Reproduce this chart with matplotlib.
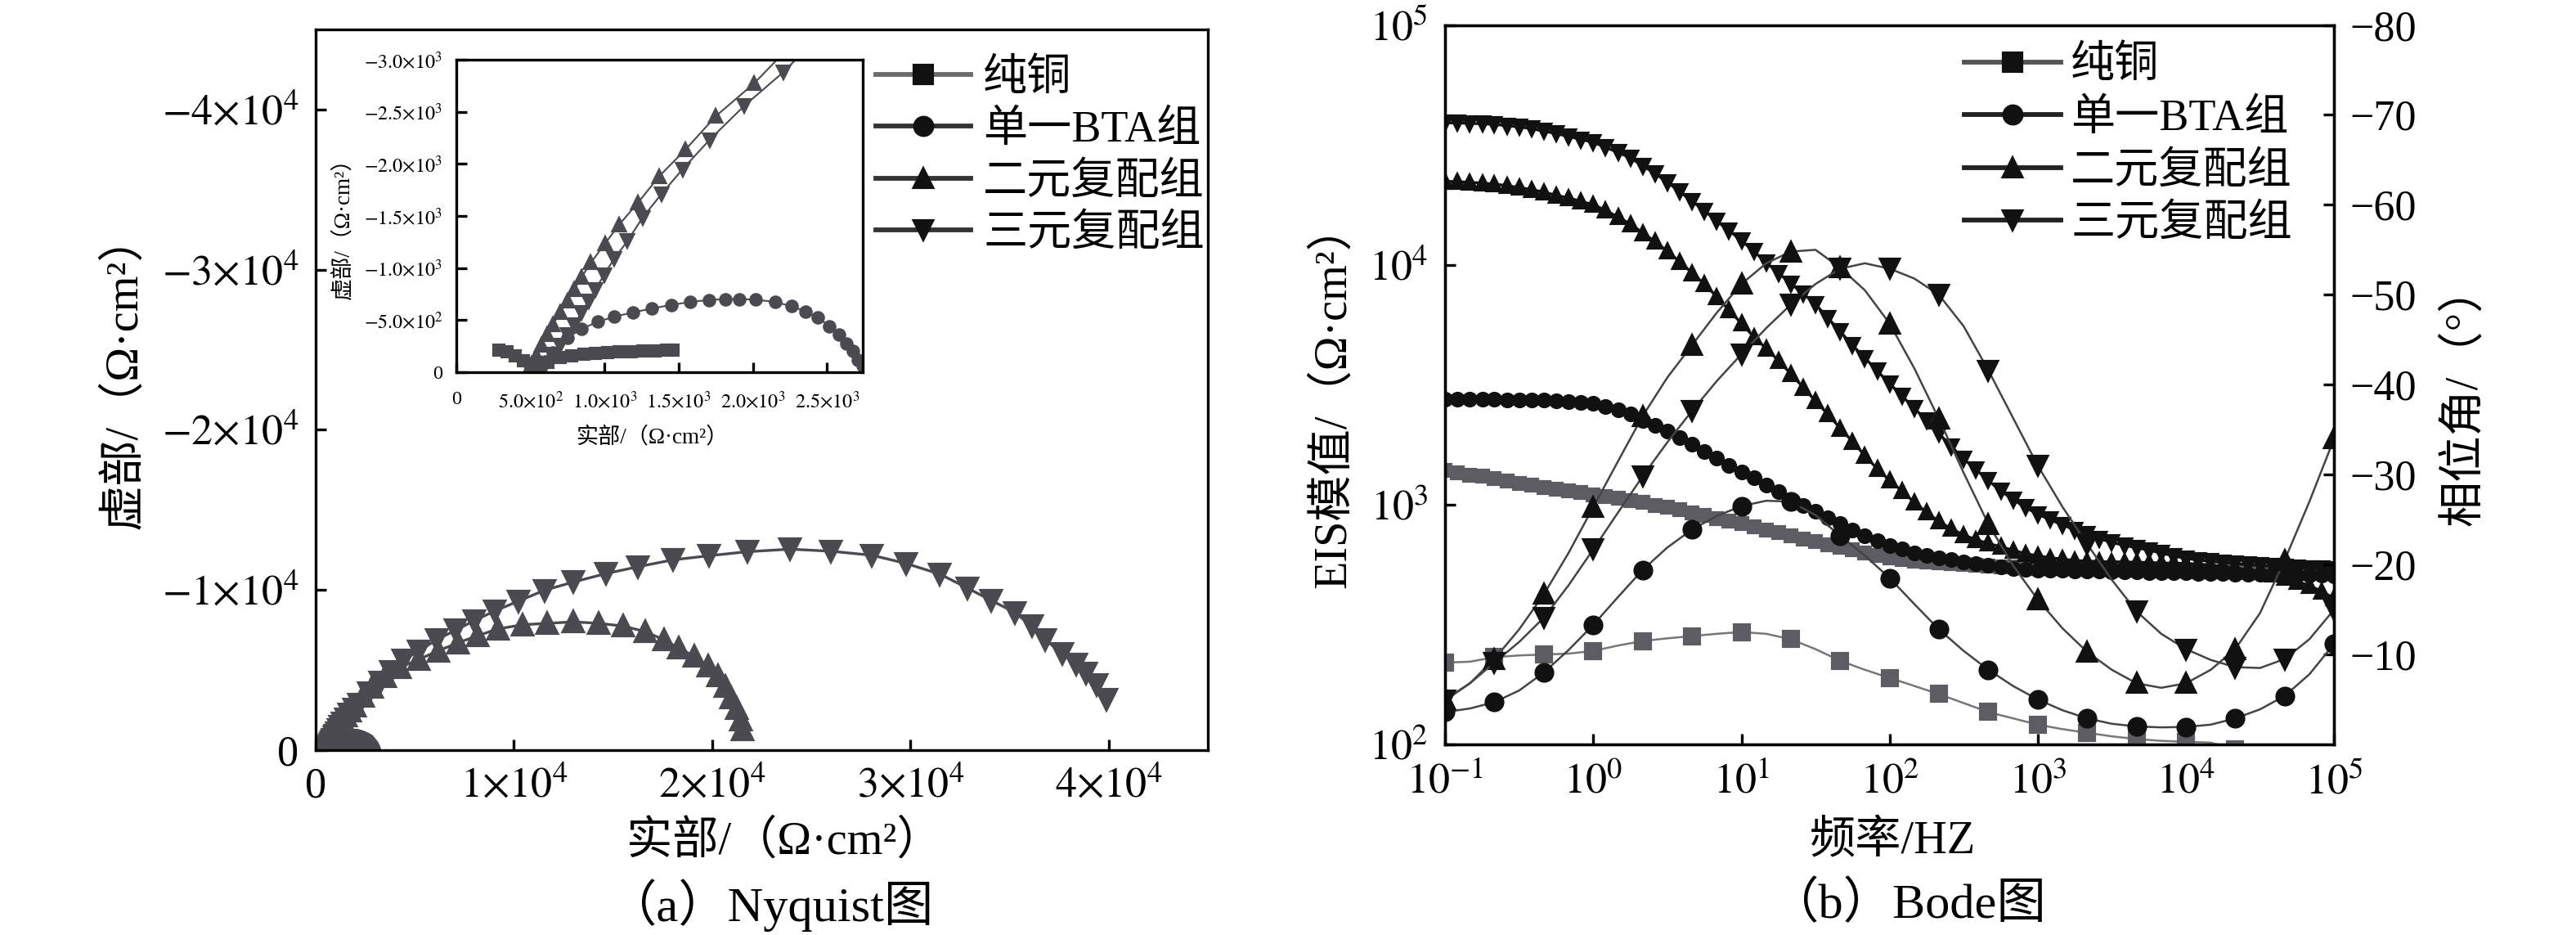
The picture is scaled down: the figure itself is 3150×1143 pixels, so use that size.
"""Nyquist (a) and Bode (b) plots for the copper corrosion EIS runs."""

import matplotlib
matplotlib.use("Agg")
import matplotlib.pyplot as plt
from matplotlib.lines import Line2D
from matplotlib.ticker import NullLocator

plt.rcParams["font.family"] = ["Liberation Serif", "Noto Sans CJK SC", "DejaVu Sans"]
plt.rcParams["mathtext.fontset"] = "stix"
plt.rcParams["axes.unicode_minus"] = True

LABELS = ["纯铜", "单一BTA组", "二元复配组", "三元复配组"]

# ---- Nyquist data, Z' and Z'' in ohm cm2 (high frequency first) ----
NYQ_CU_RE = [290, 340, 395, 450, 505, 560, 620, 700, 780, 860, 940, 1020,
             1100, 1180, 1260, 1340, 1420, 1460]
NYQ_CU_IM = [-215, -195, -160, -110, -55, -40, -95, -140, -160, -172, -180, -188,
             -194, -199, -203, -207, -211, -214]

NYQ_BTA_RE = [545, 600, 652, 748, 843, 955, 1066, 1193, 1320, 1448, 1575, 1703,
              1814, 1909, 2021, 2148, 2259, 2355, 2435, 2514, 2578, 2632, 2673,
              2705, 2740, 2770]
NYQ_BTA_IM = [-20, -100, -189, -330, -415, -485, -533, -575, -612, -646, -674, -694,
              -702, -702, -697, -674, -635, -584, -528, -443, -358, -273, -203,
              -119, -60, -10]

NYQ_BIN_RE = [509, 541, 573, 614, 652, 700, 748, 795, 843, 907, 1002, 1098, 1225,
              1368, 1543, 1750, 2005, 2400, 2870, 3530, 4270, 5220, 6180, 7200,
              8160, 9190, 10440, 11690, 13010, 14260, 15510, 16620, 17570, 18300,
              19110, 19780, 20290, 20660, 20950, 21240, 21470, 21540]
NYQ_BIN_IM = [-77, -161, -259, -358, -457, -570, -683, -795, -908, -1050, -1233,
              -1416, -1627, -1881, -2134, -2459, -2769, -3350, -3950, -4600, -5170,
              -5680, -6200, -6710, -7140, -7570, -7830, -7920, -8010, -7920, -7750,
              -7400, -6890, -6370, -5860, -5250, -4650, -3960, -3280, -2590, -1900,
              -1300]

NYQ_TER_RE = [605, 652, 700, 748, 795, 843, 891, 939, 996, 1066, 1155, 1257, 1384,
              1527, 1709, 1942, 2206, 2700, 3250, 3800, 4410, 5220, 6100, 7060,
              8010, 9040, 10220, 11540, 13010, 14630, 16250, 18010, 19850, 21760,
              23940, 26000, 28060, 29770, 31490, 32860, 34060, 35260, 36120, 36810,
              37660, 38350, 38860, 39380, 39890]
NYQ_TER_IM = [-90, -175, -259, -358, -457, -570, -683, -795, -936, -1092, -1261,
              -1486, -1712, -1951, -2233, -2558, -2882, -3600, -4250, -4900, -5600,
              -6200, -6890, -7490, -8090, -8690, -9300, -9980, -10500, -11020,
              -11450, -11880, -12140, -12390, -12550, -12420, -12170, -11660,
              -10990, -10130, -9360, -8600, -7740, -6880, -6020, -5360, -4780,
              -4110, -3160]

# ---- Bode data: 12 points per decade ----
FREQ_HZ = [0.1, 0.121, 0.147, 0.178, 0.215, 0.261, 0.316, 0.383, 0.464, 0.562, 0.681, 0.825,
           1.0, 1.21, 1.47, 1.78, 2.15, 2.61, 3.16, 3.83, 4.64, 5.62, 6.81, 8.25,
           10, 12.1, 14.7, 17.8, 21.5, 26.1, 31.6, 38.3, 46.4, 56.2, 68.1, 82.5,
           100, 121, 147, 178, 215, 261, 316, 383, 464, 562, 681, 825,
           1000, 1210, 1470, 1780, 2150, 2610, 3160, 3830, 4640, 5620, 6810, 8250,
           10000, 12100, 14700, 17800, 21500, 26100, 31600, 38300, 46400, 56200,
           68100, 82500, 100000]

ZMOD_CU = [1390, 1360, 1330, 1310, 1280, 1250, 1230, 1210, 1180, 1160, 1140, 1120,
           1100, 1080, 1060, 1040, 1020, 995, 977, 953, 927, 902, 877, 855,
           832, 807, 785, 762, 741, 719, 700, 682, 665, 649, 631, 615,
           600, 592, 583, 577, 571, 566, 562, 558, 556, 552, 550, 546,
           543, 542, 541, 540, 538, 537, 536, 534, 533, 532, 530, 529,
           527, 526, 525, 524, 523, 522, 521, 520, 519, 518, 517, 516, 515]
ZMOD_BTA = [2750, 2750, 2750, 2750, 2750, 2740, 2735, 2730, 2720, 2700, 2690, 2670,
            2640, 2570, 2480, 2380, 2250, 2140, 2020, 1900, 1780, 1670, 1560, 1460,
            1370, 1290, 1210, 1130, 1050, 995, 938, 883, 834, 785, 741, 705,
            675, 652, 631, 615, 601, 589, 578, 566, 557, 550, 543, 538,
            535, 532, 531, 530, 528, 527, 526, 525, 524, 522, 521, 520,
            519, 518, 516, 515, 514, 513, 512, 511, 511, 509, 508, 507, 506]
ZMOD_BIN = [22300, 22200, 22100, 21900, 21700, 21400, 21000, 20600, 20100, 19500, 19000, 18400,
            17800, 16900, 15800, 14800, 13600, 12500, 11400, 10300, 9250, 8320, 7350, 6460,
            5690, 5010, 4470, 3980, 3510, 3080, 2700, 2380, 2080, 1830, 1600, 1410,
            1260, 1140, 1020, 929, 851, 793, 748, 714, 689, 667, 646, 625,
            612, 601, 593, 585, 582, 579, 578, 577, 575, 574, 571, 570,
            569, 565, 560, 553, 545, 535, 525, 511, 495, 479, 460, 435, 407]
ZMOD_TER = [39100, 39000, 38900, 38700, 38500, 38000, 37600, 36900, 36100, 35200, 34300, 33300,
            32400, 30900, 29400, 27900, 25900, 24000, 22100, 20200, 18400, 16800, 15200, 13900,
            12600, 11400, 10200, 9230, 8360, 7570, 6850, 6010, 5270, 4620, 4090, 3610,
            3200, 2840, 2520, 2240, 1980, 1750, 1550, 1400, 1260, 1140, 1050, 973,
            912, 865, 822, 785, 752, 721, 695, 676, 661, 646, 628, 611,
            596, 587, 579, 573, 568, 562, 557, 553, 550, 546, 543, 540, 537]

# phase in degrees at every second frequency (6 per decade)
PHASE_CU = [-9.1, -9.2, -9.7, -9.9, -10.0, -10.1, -10.4, -11.0, -11.5, -11.8, -12.05,
            -12.3, -12.5, -12.3, -11.7, -10.6, -9.3, -8.3, -7.4, -6.5, -5.6, -4.6,
            -3.6, -2.9, -2.2, -1.7, -1.3, -0.9, -0.6, -0.4, -0.3, -0.2, 0.5, 1.5,
            3.0, 5.0, 7.5]
PHASE_BTA = [-3.6, -4.0, -4.7, -6.0, -8.0, -10.5, -13.3, -16.4, -19.4, -21.9, -23.9,
             -25.4, -26.5, -27.1, -27.0, -25.5, -23.2, -21.0, -18.5, -15.6, -12.8,
             -10.4, -8.3, -6.5, -5.0, -3.8, -2.9, -2.3, -2.0, -1.9, -1.95, -2.2,
             -2.9, -3.9, -5.4, -7.8, -11.2]
PHASE_BIN = [-5.0, -6.8, -9.5, -12.8, -16.7, -21.3, -26.4, -31.5, -36.5, -40.8, -44.4,
             -48.0, -51.2, -53.5, -54.8, -55.0, -53.0, -50.5, -46.8, -41.8, -36.2,
             -30.2, -24.5, -19.9, -16.1, -12.9, -10.3, -8.3, -6.8, -6.3, -6.8, -8.3,
             -10.6, -14.6, -20.5, -27.0, -34.0]
PHASE_TER = [-4.9, -6.8, -9.1, -11.4, -14.1, -17.7, -21.7, -25.8, -29.8, -33.6, -37.1,
             -40.4, -43.4, -46.3, -48.9, -51.2, -52.9, -53.5, -52.9, -51.8, -50.0,
             -46.5, -41.6, -36.3, -31.0, -26.4, -22.3, -18.3, -14.8, -12.3, -10.6,
             -9.4, -8.6, -8.5, -9.5, -11.7, -15.0]

NYQ_X_TICKS = [0, 10000, 20000, 30000, 40000]
NYQ_X_LABELS = ["0", r"$1{\times}10^{4}$", r"$2{\times}10^{4}$", r"$3{\times}10^{4}$",
                r"$4{\times}10^{4}$"]
NYQ_Y_TICKS = [0, -10000, -20000, -30000, -40000]
NYQ_Y_LABELS = ["0", r"$-1{\times}10^{4}$", r"$-2{\times}10^{4}$", r"$-3{\times}10^{4}$",
                r"$-4{\times}10^{4}$"]
INSET_X_TICKS = [0, 500, 1000, 1500, 2000, 2500]
INSET_X_LABELS = ["0", r"$5.0{\times}10^{2}$", r"$1.0{\times}10^{3}$", r"$1.5{\times}10^{3}$",
                  r"$2.0{\times}10^{3}$", r"$2.5{\times}10^{3}$"]
INSET_Y_TICKS = [0, -500, -1000, -1500, -2000, -2500, -3000]
INSET_Y_LABELS = ["0", r"$-5.0{\times}10^{2}$", r"$-1.0{\times}10^{3}$", r"$-1.5{\times}10^{3}$",
                  r"$-2.0{\times}10^{3}$", r"$-2.5{\times}10^{3}$", r"$-3.0{\times}10^{3}$"]
BODE_X_TICKS = [0.1, 1, 10, 100, 1000, 10000, 100000]
BODE_X_LABELS = [r"$10^{-1}$", r"$10^{0}$", r"$10^{1}$", r"$10^{2}$", r"$10^{3}$",
                 r"$10^{4}$", r"$10^{5}$"]
BODE_Y_TICKS = [100, 1000, 10000, 100000]
BODE_Y_LABELS = [r"$10^{2}$", r"$10^{3}$", r"$10^{4}$", r"$10^{5}$"]
PHASE_TICKS = [-80, -70, -60, -50, -40, -30, -20, -10]
PHASE_LABELS = ["−80", "−70", "−60", "−50", "−40", "−30", "−20", "−10"]

NYQ_GREY = "#4a4a50"
CU_GREY = "#5c5c62"
BLACK = "#111111"


def style_axes(ax, size, length, pad):
    for side in ax.spines.values():
        side.set_linewidth(0.8)
    ax.tick_params(direction="in", length=length, width=0.8, labelsize=size,
                   pad=pad, top=False, right=False)


def draw_nyquist(ax, ms, lw):
    kw = dict(color=NYQ_GREY, mfc=NYQ_GREY, mec=NYQ_GREY, lw=lw, clip_on=True)
    ax.plot(NYQ_CU_RE, NYQ_CU_IM, marker="s", ms=ms * 0.85, **kw)
    ax.plot(NYQ_BTA_RE, NYQ_BTA_IM, marker="o", ms=ms * 0.9, **kw)
    ax.plot(NYQ_TER_RE, NYQ_TER_IM, marker="v", ms=ms, **kw)
    ax.plot(NYQ_BIN_RE, NYQ_BIN_IM, marker="^", ms=ms, **kw)


def legend_handles(line_cu, line_other):
    marks = ["s", "o", "^", "v"]
    handles = []
    for i, m in enumerate(marks):
        c = line_cu if i == 0 else line_other
        handles.append(Line2D([], [], color=c, lw=1.4, marker=m, ms=5.2,
                              mfc=BLACK, mec=BLACK))
    return handles


fig = plt.figure(figsize=(10.5, 3.81), dpi=300)

# ---------------- (a) Nyquist ----------------
ax_n = fig.add_axes([0.1225, 0.1977, 0.3464, 0.7708])
draw_nyquist(ax_n, ms=5.6, lw=0.8)
ax_n.set_xlim(0, 45000)
ax_n.set_ylim(0, -45000)
ax_n.set_xticks(NYQ_X_TICKS, NYQ_X_LABELS)
ax_n.set_yticks(NYQ_Y_TICKS, NYQ_Y_LABELS)
style_axes(ax_n, 12.5, 3.2, 5)

ax_in = fig.add_axes([0.1771, 0.6019, 0.1578, 0.3342])
ax_in.set_zorder(3)
draw_nyquist(ax_in, ms=3.3, lw=0.5)
ax_in.set_xlim(0, 2740)
ax_in.set_ylim(0, -3000)
ax_in.set_xticks(INSET_X_TICKS, INSET_X_LABELS)
ax_in.set_yticks(INSET_Y_TICKS, INSET_Y_LABELS)
style_axes(ax_in, 5.8, 3.0, 4.0)
ax_in.tick_params(axis="x", pad=5.5)

ax_n.legend(legend_handles("#6a6a6a", "#333333"), LABELS,
            loc="upper left", bbox_to_anchor=(1071 / 3150, 1 - 71 / 1143),
            bbox_transform=fig.transFigure, frameon=False, fontsize=13,
            handlelength=2.14, handletextpad=0.28, labelspacing=0.24,
            borderpad=0, borderaxespad=0)

fig.text(0.048, 0.603, "虚部/（Ω·cm²）", rotation=90, ha="center", va="center",
         fontsize=13.5)
fig.text(0.3044, 0.0997, "实部/（Ω·cm²）", ha="center", va="center", fontsize=13.5)
fig.text(0.299, 0.032, "（a）Nyquist图", ha="center", va="center", fontsize=14.5)
fig.text(0.1332, 0.7612, "虚部/（Ω·cm²）", rotation=90, ha="center", va="center",
         fontsize=6.5)
fig.text(0.253, 0.532, "实部/（Ω·cm²）", ha="center", va="center", fontsize=6.5)

# ---------------- (b) Bode ----------------
ax_m = fig.add_axes([0.5610, 0.2038, 0.3451, 0.7695])
ax_p = ax_m.twinx()

ax_m.plot(FREQ_HZ, ZMOD_CU, marker="s", ms=3.4, color=CU_GREY, mfc=CU_GREY,
          mec=CU_GREY, lw=0.8, zorder=2)
ax_m.plot(FREQ_HZ, ZMOD_BTA, marker="o", ms=3.6, color=BLACK, lw=0.8, zorder=3)
ax_m.plot(FREQ_HZ, ZMOD_BIN, marker="^", ms=4.0, color=BLACK, lw=0.8, zorder=3)
ax_m.plot(FREQ_HZ, ZMOD_TER, marker="v", ms=4.0, color=BLACK, lw=0.8, zorder=3)

f_phase = FREQ_HZ[::2]
ax_p.plot(f_phase, PHASE_CU, marker="s", ms=4.4, markevery=2, color="#777777",
          mfc=CU_GREY, mec=CU_GREY, lw=0.6)
ax_p.plot(f_phase, PHASE_BTA, marker="o", ms=4.8, markevery=2, color="#444444",
          mfc=BLACK, mec=BLACK, lw=0.6)
ax_p.plot(f_phase, PHASE_BIN, marker="^", ms=5.4, markevery=2, color="#444444",
          mfc=BLACK, mec=BLACK, lw=0.6)
ax_p.plot(f_phase, PHASE_TER, marker="v", ms=5.4, markevery=2, color="#444444",
          mfc=BLACK, mec=BLACK, lw=0.6)

ax_m.set_xscale("log")
ax_m.set_yscale("log")
ax_m.set_xlim(0.1, 100000)
ax_m.set_ylim(100, 100000)
ax_m.set_xticks(BODE_X_TICKS, BODE_X_LABELS)
ax_m.set_yticks(BODE_Y_TICKS, BODE_Y_LABELS)
ax_m.xaxis.set_minor_locator(NullLocator())
ax_m.yaxis.set_minor_locator(NullLocator())
style_axes(ax_m, 12.5, 3.2, 5)
ax_m.tick_params(axis="x", pad=5.5)

ax_p.set_ylim(0, -80)
ax_p.set_yticks(PHASE_TICKS, PHASE_LABELS)
for side in ax_p.spines.values():
    side.set_linewidth(0.8)
ax_p.tick_params(axis="y", direction="in", length=3.2, width=0.8, labelsize=12.5,
                 pad=4.5, right=True, left=False)

ax_p.legend(legend_handles("#555555", "#222222"), LABELS,
            loc="upper left", bbox_to_anchor=(2402 / 3150, 1 - 56 / 1143),
            bbox_transform=fig.transFigure, frameon=False, fontsize=13,
            handlelength=2.18, handletextpad=0.22, labelspacing=0.26,
            borderpad=0, borderaxespad=0)

fig.text(0.5175, 0.5774, "EIS模值/（Ω·cm²）", rotation=90, ha="center", va="center",
         fontsize=13.5)
fig.text(0.9565, 0.5774, "相位角/（°）", rotation=90, ha="center", va="center",
         fontsize=13.5)
fig.text(0.7346, 0.0997, "频率/HZ", ha="center", va="center", fontsize=13.5)
fig.text(0.7406, 0.032, "（b）Bode图", ha="center", va="center", fontsize=14.5)

fig.savefig("out.png", dpi=300)
